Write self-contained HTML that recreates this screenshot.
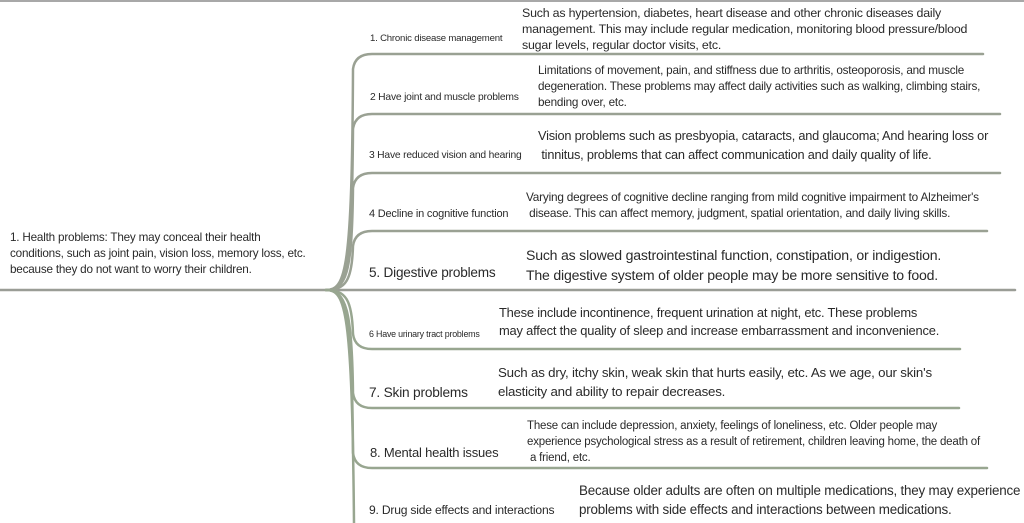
<!DOCTYPE html>
<html><head><meta charset="utf-8"><style>
html,body{margin:0;padding:0;background:#fff;}
body{width:1024px;height:523px;position:relative;overflow:hidden;font-family:"Liberation Sans",sans-serif;color:#2a2a2a;}
.t{position:absolute;white-space:nowrap;letter-spacing:-0.2px;}
svg{position:absolute;left:0;top:0;}
</style></head><body>
<svg width="1024" height="523" viewBox="0 0 1024 523">
<line x1="0" y1="1" x2="1024" y2="1" stroke="#a8a8a8" stroke-width="2"/>
<g fill="none" stroke-width="2.5" stroke-linecap="round">
<line x1="0" y1="290" x2="1015" y2="290" stroke="#9a9d96"/>
<path d="M326,290 C346,290 352,270 353,69 Q355,54 372,54 L983,54" stroke="#9aa193"/>
<path d="M326,290 C346,290 352,270 353,129 Q355,114 372,114 L1000,114" stroke="#9aa193"/>
<path d="M326,290 C346,290 352,275 353,188 Q355,173 372,173 L1000,173" stroke="#9aa193"/>
<path d="M326,290 C346,290 352,280 353,246 Q355,231 372,231 L987,231" stroke="#9aa193"/>
<path d="M326,290 C346,290 352,300 353,334 Q355,349 372,349 L960,349" stroke="#98a690"/>
<path d="M326,290 C346,290 352,310 353,393 Q355,408 372,408 L959,408" stroke="#98a690"/>
<path d="M326,290 C346,290 352,310 353,453 Q355,468 372,468 L987,468" stroke="#98a690"/>
<path d="M326,290 C346,290 352,310 354,523" stroke="#98a690"/>
</g>
</svg>
<div class="t" style="left:10px;top:230px;font-size:11.7px;line-height:16px;">1. Health problems: They may conceal their health<br>conditions, such as joint pain, vision loss, memory loss, etc.<br>because they do not want to worry their children.</div>

<div class="t" style="left:370px;top:33px;font-size:9.6px;">1. Chronic disease management</div>
<div class="t" style="left:522px;top:5px;font-size:12.4px;line-height:16px;">Such as hypertension, diabetes, heart disease and other chronic diseases daily<br>management. This may include regular medication, monitoring blood pressure/blood<br>sugar levels, regular doctor visits, etc.</div>

<div class="t" style="left:370px;top:92px;font-size:10.3px;">2 Have joint and muscle problems</div>
<div class="t" style="left:538px;top:63px;font-size:11.7px;line-height:16px;">Limitations of movement, pain, and stiffness due to arthritis, osteoporosis, and muscle<br>degeneration. These problems may affect daily activities such as walking, climbing stairs,<br>bending over, etc.</div>

<div class="t" style="left:369px;top:150px;font-size:10.3px;">3 Have reduced vision and hearing</div>
<div class="t" style="left:538px;top:126px;font-size:12.75px;line-height:19px;">Vision problems such as presbyopia, cataracts, and glaucoma; And hearing loss or<br>&nbsp;tinnitus, problems that can affect communication and daily quality of life.</div>

<div class="t" style="left:369px;top:208px;font-size:11px;">4 Decline in cognitive function</div>
<div class="t" style="left:526px;top:189px;font-size:11.8px;line-height:16px;">Varying degrees of cognitive decline ranging from mild cognitive impairment to Alzheimer's<br>&nbsp;disease. This can affect memory, judgment, spatial orientation, and daily living skills.</div>

<div class="t" style="left:369px;top:265px;font-size:13.6px;">5. Digestive problems</div>
<div class="t" style="left:526px;top:245px;font-size:14.1px;line-height:20px;">Such as slowed gastrointestinal function, constipation, or indigestion.<br>The digestive system of older people may be more sensitive to food.</div>

<div class="t" style="left:369px;top:329px;font-size:8.9px;">6 Have urinary tract problems</div>
<div class="t" style="left:499px;top:304px;font-size:12.9px;line-height:18px;">These include incontinence, frequent urination at night, etc. These problems<br>may affect the quality of sleep and increase embarrassment and inconvenience.</div>

<div class="t" style="left:369px;top:385px;font-size:13.7px;">7. Skin problems</div>
<div class="t" style="left:498px;top:363px;font-size:13.3px;line-height:19px;">Such as dry, itchy skin, weak skin that hurts easily, etc. As we age, our skin's<br>elasticity and ability to repair decreases.</div>

<div class="t" style="left:370px;top:445px;font-size:13px;">8. Mental health issues</div>
<div class="t" style="left:527px;top:418px;font-size:11.5px;line-height:16px;">These can include depression, anxiety, feelings of loneliness, etc. Older people may<br>experience psychological stress as a result of retirement, children leaving home, the death of<br>&nbsp;a friend, etc.</div>

<div class="t" style="left:369px;top:503px;font-size:12.1px;">9. Drug side effects and interactions</div>
<div class="t" style="left:579px;top:481px;font-size:13.4px;line-height:19px;">Because older adults are often on multiple medications, they may experience<br>problems with side effects and interactions between medications.</div>
</body></html>
